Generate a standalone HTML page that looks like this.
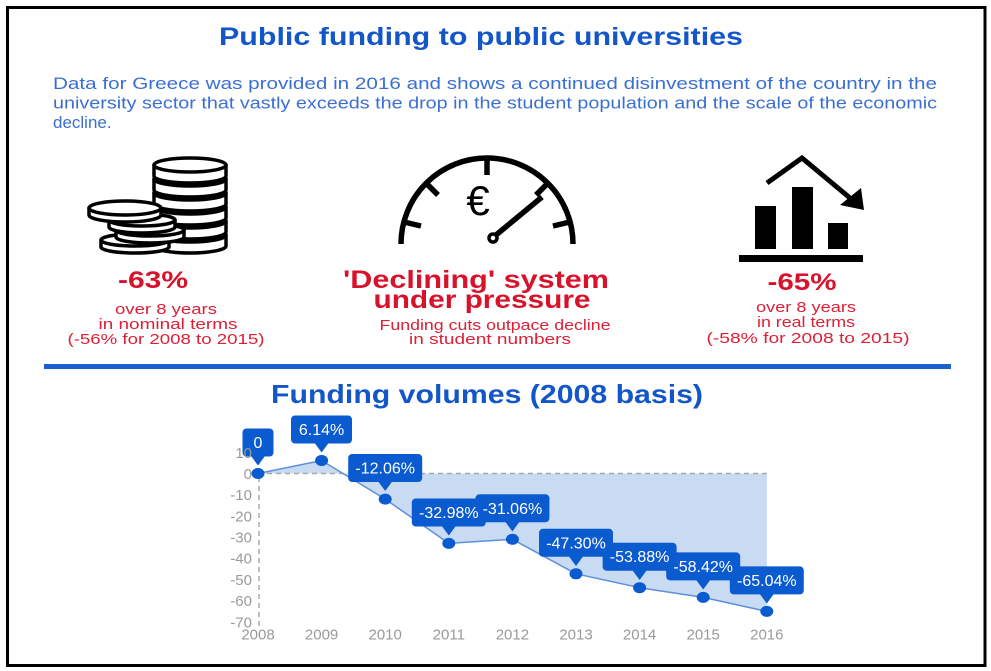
<!DOCTYPE html>
<html><head><meta charset="utf-8"><style>
html,body{margin:0;padding:0;background:#fff;}
svg{display:block;}
text{font-family:"Liberation Sans",Arial,sans-serif;}
</style></head><body>
<svg width="991" height="671" viewBox="0 0 991 671" xmlns="http://www.w3.org/2000/svg">
<rect x="0" y="0" width="991" height="671" fill="#fff"/>
<rect x="7.5" y="7.5" width="977.5" height="658" fill="none" stroke="#000" stroke-width="3"/>

<!-- Title -->
<text x="481" y="45" font-size="25" font-weight="bold" fill="#1256c8" text-anchor="middle" textLength="524" lengthAdjust="spacingAndGlyphs">Public funding to public universities</text>

<!-- paragraph -->
<g font-size="17" fill="#3a6fd2">
<text x="53" y="89" textLength="884" lengthAdjust="spacingAndGlyphs">Data for Greece was provided in 2016 and shows a continued disinvestment of the country in the</text>
<text x="53" y="108.5" textLength="884" lengthAdjust="spacingAndGlyphs">university sector that vastly exceeds the drop in the student population and the scale of the economic</text>
<text x="53" y="128">decline.</text>
</g>

<!-- Coins icon -->
<g fill="#fff" stroke="#000" stroke-width="3.5" stroke-linejoin="round">
  <path d="M154,235 L154,246 A36,7 0 0 0 226,246 L226,235 Z"/><ellipse cx="190" cy="235" rx="36" ry="7"/>
  <path d="M154,221 L154,232 A36,7 0 0 0 226,232 L226,221 Z"/><ellipse cx="190" cy="221" rx="36" ry="7"/>
  <path d="M154,207 L154,218 A36,7 0 0 0 226,218 L226,207 Z"/><ellipse cx="190" cy="207" rx="36" ry="7"/>
  <path d="M154,193 L154,204 A36,7 0 0 0 226,204 L226,193 Z"/><ellipse cx="190" cy="193" rx="36" ry="7"/>
  <path d="M154,179 L154,190 A36,7 0 0 0 226,190 L226,179 Z"/><ellipse cx="190" cy="179" rx="36" ry="7"/>
  <path d="M154,165 L154,176 A36,7 0 0 0 226,176 L226,165 Z"/><ellipse cx="190" cy="165" rx="36" ry="7"/>
  <path d="M101,240 L101,247 A34,6 0 0 0 169,247 L169,240 Z"/><ellipse cx="135" cy="240" rx="34" ry="6"/>
  <path d="M116,230 L116,237 A34,6 0 0 0 184,237 L184,230 Z"/><ellipse cx="150" cy="230" rx="34" ry="6"/>
  <path d="M109,220 L109,227 A33,6 0 0 0 175,227 L175,220 Z"/><ellipse cx="142" cy="220" rx="33" ry="6"/>
  <path d="M89,208 L89,215 A36,7 0 0 0 161,215 L161,208 Z"/><ellipse cx="125" cy="208" rx="36" ry="7"/>
</g>

<!-- left texts -->
<text x="153" y="288" font-size="24" font-weight="bold" fill="#d8122b" text-anchor="middle" textLength="70" lengthAdjust="spacingAndGlyphs">-63%</text>
<g font-size="15" fill="#dc2036" text-anchor="middle">
<text x="166" y="314" textLength="102" lengthAdjust="spacingAndGlyphs">over 8 years</text>
<text x="168" y="329" textLength="139" lengthAdjust="spacingAndGlyphs">in nominal terms</text>
<text x="166" y="344" textLength="197" lengthAdjust="spacingAndGlyphs">(-56% for 2008 to 2015)</text>
</g>

<!-- Gauge icon -->
<g fill="none" stroke="#000" stroke-width="5.5" stroke-linecap="butt">
  <path d="M401,244 A86,86 0 0 1 573,244"/>
  <line x1="487" y1="158" x2="487" y2="175"/>
  <line x1="426" y1="183" x2="438" y2="195"/>
  <line x1="548" y1="183" x2="536" y2="195"/>
  <line x1="404" y1="222" x2="421" y2="226"/>
  <line x1="570" y1="222" x2="553" y2="226"/>
  <line x1="496" y1="235" x2="542" y2="197"/>
  <circle cx="493" cy="238" r="4" stroke-width="3.5" fill="#fff"/>
</g>
<text x="478" y="215" font-size="42" fill="#000" text-anchor="middle">€</text>

<!-- middle texts -->
<g fill="#d8122b" font-weight="bold" font-size="25" text-anchor="middle">
<text x="476" y="288" textLength="266" lengthAdjust="spacingAndGlyphs">'Declining' system</text>
<text x="482" y="308" textLength="217" lengthAdjust="spacingAndGlyphs">under pressure</text>
</g>
<g fill="#dc2036" font-size="15" text-anchor="middle">
<text x="495" y="330" textLength="231" lengthAdjust="spacingAndGlyphs">Funding cuts outpace decline</text>
<text x="490" y="344" textLength="162" lengthAdjust="spacingAndGlyphs">in student numbers</text>
</g>

<!-- Bars icon -->
<g fill="#000">
  <rect x="755" y="206" width="21" height="43"/>
  <rect x="792" y="187" width="21" height="62"/>
  <rect x="828" y="223" width="20" height="26"/>
  <rect x="739" y="255" width="124" height="7"/>
  <polygon points="840,205 861,188 864,210"/>
</g>
<polyline points="767,183 802,158 850,198" fill="none" stroke="#000" stroke-width="5"/>

<!-- right texts -->
<text x="802" y="290" font-size="24" font-weight="bold" fill="#d8122b" text-anchor="middle" textLength="69" lengthAdjust="spacingAndGlyphs">-65%</text>
<g font-size="15" fill="#dc2036" text-anchor="middle">
<text x="806" y="312" textLength="100" lengthAdjust="spacingAndGlyphs">over 8 years</text>
<text x="806" y="327" textLength="98" lengthAdjust="spacingAndGlyphs">in real terms</text>
<text x="808" y="343" textLength="203" lengthAdjust="spacingAndGlyphs">(-58% for 2008 to 2015)</text>
</g>

<!-- rule -->
<rect x="44" y="364" width="907" height="5" fill="#1a5fcf"/>

<!-- chart title -->
<text x="487" y="403" font-size="26" font-weight="bold" fill="#1256c8" text-anchor="middle" textLength="432" lengthAdjust="spacingAndGlyphs">Funding volumes (2008 basis)</text>

<!-- chart -->
<polygon points="258,473.5 321.6,460.5 385.2,499.1 448.8,543.4 512.4,539.3 576,573.8 639.6,587.7 703.2,597.4 766.8,611.4 766.8,473.5" fill="#c8dbf3"/>
<line x1="258" y1="473.5" x2="767" y2="473.5" stroke="#a8a8a8" stroke-width="1.5" stroke-dasharray="5,4"/>
<line x1="259" y1="450" x2="259" y2="628" stroke="#a8a8a8" stroke-width="1.5" stroke-dasharray="5,4"/>
<polyline points="258,473.5 321.6,460.5 385.2,499.1 448.8,543.4 512.4,539.3 576,573.8 639.6,587.7 703.2,597.4 766.8,611.4" fill="none" stroke="#5f8fdc" stroke-width="1.5"/>

<g fill="#0a5ad0">
<ellipse cx="258" cy="473.5" rx="6.5" ry="5.5"/>
<ellipse cx="321.6" cy="460.5" rx="6.5" ry="5.5"/>
<ellipse cx="385.2" cy="499.1" rx="6.5" ry="5.5"/>
<ellipse cx="448.8" cy="543.4" rx="6.5" ry="5.5"/>
<ellipse cx="512.4" cy="539.3" rx="6.5" ry="5.5"/>
<ellipse cx="576" cy="573.8" rx="6.5" ry="5.5"/>
<ellipse cx="639.6" cy="587.7" rx="6.5" ry="5.5"/>
<ellipse cx="703.2" cy="597.4" rx="6.5" ry="5.5"/>
<ellipse cx="766.8" cy="611.4" rx="6.5" ry="5.5"/>

<!-- label boxes -->
<rect x="242.5" y="428.5" width="31" height="28" rx="4"/><polygon points="251,456 265,456 258,465.5"/>
<rect x="291" y="415.5" width="61" height="28" rx="4"/><polygon points="314.6,443 328.6,443 321.6,452.5"/>
<rect x="348.2" y="454" width="74" height="28" rx="4"/><polygon points="378.2,481.5 392.2,481.5 385.2,491"/>
<rect x="411.8" y="498.5" width="74" height="28" rx="4"/><polygon points="441.8,526 455.8,526 448.8,535.5"/>
<rect x="475.4" y="494.3" width="74" height="28" rx="4"/><polygon points="505.4,522 519.4,522 512.4,531.5"/>
<rect x="539" y="528.8" width="74" height="28" rx="4"/><polygon points="569,556.5 583,556.5 576,566"/>
<rect x="602.6" y="542.7" width="74" height="28" rx="4"/><polygon points="632.6,570.5 646.6,570.5 639.6,580"/>
<rect x="666.2" y="552.4" width="74" height="28" rx="4"/><polygon points="696.2,580 710.2,580 703.2,589.5"/>
<rect x="729.8" y="566.4" width="74" height="28" rx="4"/><polygon points="759.8,594 773.8,594 766.8,603.5"/>
</g>
<g font-size="16" fill="#fff" text-anchor="middle">
<text x="258" y="448">0</text>
<text x="321.6" y="435">6.14%</text>
<text x="385.2" y="473.5">-12.06%</text>
<text x="448.8" y="518">-32.98%</text>
<text x="512.4" y="513.8">-31.06%</text>
<text x="576" y="548.3">-47.30%</text>
<text x="639.6" y="562.2">-53.88%</text>
<text x="703.2" y="571.9">-58.42%</text>
<text x="766.8" y="585.9">-65.04%</text>
</g>

<g font-size="15" fill="#9a9a9a" text-anchor="end">
<text x="252" y="458">10</text>
<text x="252" y="479">0</text>
<text x="252" y="500">-10</text>
<text x="252" y="521.5">-20</text>
<text x="252" y="542.5">-30</text>
<text x="252" y="563.5">-40</text>
<text x="252" y="585">-50</text>
<text x="252" y="606">-60</text>
<text x="252" y="627.5">-70</text>
</g>
<g font-size="15" fill="#9a9a9a" text-anchor="middle">
<text x="258" y="639.5">2008</text>
<text x="321.6" y="639.5">2009</text>
<text x="385.2" y="639.5">2010</text>
<text x="448.8" y="639.5">2011</text>
<text x="512.4" y="639.5">2012</text>
<text x="576" y="639.5">2013</text>
<text x="639.6" y="639.5">2014</text>
<text x="703.2" y="639.5">2015</text>
<text x="766.8" y="639.5">2016</text>
</g>
</svg>
</body></html>
